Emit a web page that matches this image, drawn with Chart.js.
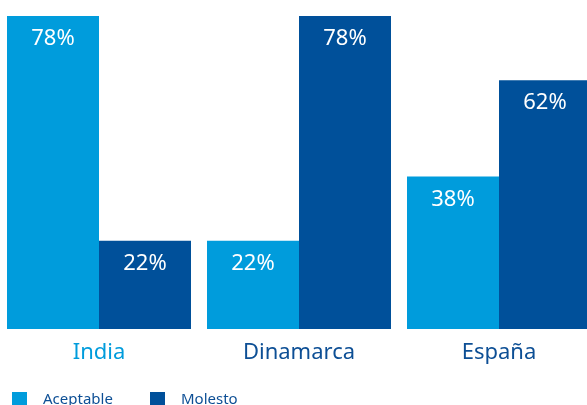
<!DOCTYPE html>
<html>
<head>
<meta charset="utf-8">
<script src="https://cdn.jsdelivr.net/npm/chart.js@4.4.1/dist/chart.umd.min.js"></script>
<style>
  html, body { margin: 0; padding: 0; background: #fff; overflow: hidden; }
  #wrap { position: absolute; left: -1px; top: 0; width: 600px; height: 420px; }
</style>
</head>
<body>
<div id="wrap"><canvas id="encuesta"></canvas></div>
<script>
// Respuesta por país (%)
const paises = ['India', 'Dinamarca', 'España'];
const aceptable = [78, 22, 38];
const molesto = [22, 78, 62];

const colorClaro = '#009cdc';
const colorOscuro = '#00509a';
const colorTexto = '#0d4f95';
const fuente = '"Noto Sans", "Open Sans", sans-serif';

// Porcentaje dentro de cada barra, cerca del borde superior
const etiquetasBarras = {
    id: 'etiquetasBarras',
    afterDatasetsDraw(chart) {
        const ctx = chart.ctx;
        ctx.save();
        ctx.fillStyle = '#ffffff';
        ctx.font = '22px ' + fuente;
        ctx.textAlign = 'center';
        ctx.textBaseline = 'middle';
        chart.data.datasets.forEach((ds, i) => {
            chart.getDatasetMeta(i).data.forEach((bar, j) => {
                ctx.fillText(ds.data[j] + '%', bar.x, bar.y + 23);
            });
        });
        ctx.restore();
    }
};

// Leyenda simple en la esquina inferior izquierda
const leyenda = {
    id: 'leyenda',
    afterDraw(chart) {
        const ctx = chart.ctx;
        const y = 399;
        const posiciones = [13, 151];
        ctx.save();
        ctx.font = '15px ' + fuente;
        ctx.textBaseline = 'middle';
        chart.data.datasets.forEach((ds, i) => {
            const x = posiciones[i];
            ctx.fillStyle = ds.backgroundColor;
            ctx.fillRect(x, y - 7, 15, 14);
            ctx.fillStyle = colorTexto;
            ctx.fillText(ds.label, x + 31, y + 1);
        });
        ctx.restore();
    }
};

new Chart(document.getElementById('encuesta'), {
    type: 'bar',
    data: {
        labels: paises,
        datasets: [
            { label: 'Aceptable', data: aceptable, backgroundColor: colorClaro },
            { label: 'Molesto', data: molesto, backgroundColor: colorOscuro }
        ]
    },
    options: {
        responsive: true,
        maintainAspectRatio: false,
        animation: false,
        layout: { padding: { top: 16, left: 0, right: 0, bottom: 0 } },
        datasets: {
            bar: { categoryPercentage: 0.92, barPercentage: 1.0 }
        },
        plugins: {
            legend: { display: false },
            tooltip: { enabled: false }
        },
        scales: {
            x: {
                grid: { display: false, drawTicks: false },
                border: { display: false },
                ticks: {
                    padding: 11,
                    font: { family: fuente, size: 22 },
                    color: (c) => c.index === 0 ? colorClaro : colorTexto
                },
                afterFit: (s) => { s.height = 91; }
            },
            y: {
                display: false,
                min: 0,
                max: 78
            }
        }
    },
    plugins: [etiquetasBarras, leyenda]
});
</script>
</body>
</html>
